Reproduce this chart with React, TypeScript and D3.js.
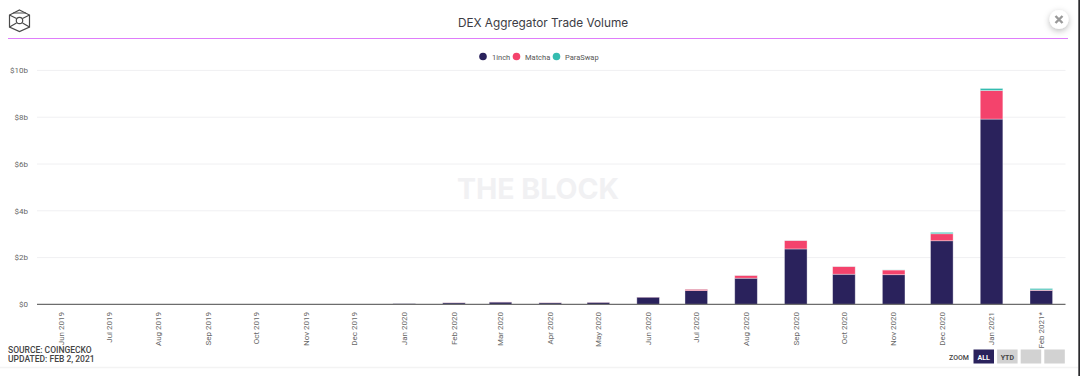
import React from "react";
import * as d3 from "d3";

const categories = ["Jun 2019","Jul 2019","Aug 2019","Sep 2019","Oct 2019","Nov 2019","Dec 2019","Jan 2020","Feb 2020","Mar 2020","Apr 2020","May 2020","Jun 2020","Jul 2020","Aug 2020","Sep 2020","Oct 2020","Nov 2020","Dec 2020","Jan 2021","Feb 2021*"];
const monthStarts = ["2019-06-01","2019-07-01","2019-08-01","2019-09-01","2019-10-01","2019-11-01","2019-12-01","2020-01-01","2020-02-01","2020-03-01","2020-04-01","2020-05-01","2020-06-01","2020-07-01","2020-08-01","2020-09-01","2020-10-01","2020-11-01","2020-12-01","2021-01-01","2021-02-01"];
const oneInch = [0,0,0,0,0,0,0,0.03,0.07,0.1,0.07,0.09,0.31,0.59,1.12,2.37,1.29,1.27,2.72,7.92,0.6];
const matcha = [0,0,0,0,0,0,0,0,0.005,0.005,0.005,0.005,0.005,0.06,0.12,0.36,0.33,0.2,0.3,1.22,0.02];
const paraSwap = [0,0,0,0,0,0,0,0,0,0,0,0,0,0.005,0.005,0.005,0.005,0.005,0.06,0.09,0.06];
const seriesNames = ["1inch","Matcha","ParaSwap"];
const seriesColors = ["#2a225c","#f4436c","#34bcb0"];
const yTicks = [0,2,4,6,8,10];
const zoomButtons = ["ALL","YTD","",""];

const dates = monthStarts.map(d=>new Date(d+"T00:00:00Z"));
const x = d3.scaleUtc().domain([dates[0],dates[dates.length-1]]).range([60.8,1041.3]);
const barW = 22.6;
const y = d3.scaleLinear().domain([0,10]).range([304.4,70.4]);
const rows = categories.map((c,i)=>({c,a:oneInch[i],b:matcha[i],p:paraSwap[i]}));
const stacked = d3.stack<any>().keys(["a","b","p"])(rows);
const ui = "Inter, 'Noto Sans', sans-serif";
const lab = "Roboto, 'Liberation Sans', sans-serif";

export default function App(){
  return (
    <svg width={1080} height={376} style={{position:"absolute",left:0,top:0,background:"#fff"}}>
      <defs>
        <filter id="sh" x="-50%" y="-50%" width="200%" height="200%">
          <feDropShadow dx="0" dy="2" stdDeviation="3" floodColor="#000" floodOpacity="0.28"/>
        </filter>
      </defs>
      <g fill="none" stroke="#4a4a4a" strokeWidth={1.2}>
        <path d="M19.5 10 L29.5 15 L29.5 27 L19.5 31.5 L9.5 27 L9.5 15 Z"/>
        <circle cx={19.5} cy={20.5} r={3.2}/>
        <path d="M9.5 15 L16.5 18.5 M29.5 15 L22.5 18.5 M9.5 27 L16.5 23 M29.5 27 L22.5 23 M13 13 L26 13"/>
      </g>
      <text x={543} y={26.5} textAnchor="middle" fontFamily={ui} fontSize={11.8} fill="#3c3c44">DEX Aggregator Trade Volume</text>
      <line x1={8} x2={1068} y1={38.5} y2={38.5} stroke="#df7dfb" strokeWidth={1.2}/>
      <circle cx={1059} cy={19.5} r={9.5} fill="#fff" filter="url(#sh)"/>
      <path d="M1055.5 16 L1062.5 23 M1062.5 16 L1055.5 23" stroke="#999" strokeWidth={2.4}/>

      {seriesNames.map((n,i)=>{
        const cx=[483,516.5,556.5][i], tx=[492,525,565][i];
        return <g key={n}>
          <circle cx={cx} cy={56.5} r={3.8} fill={seriesColors[i]}/>
          <text x={tx} y={60} fontFamily={lab} fontSize={7.5} fill="#555">{n}</text>
        </g>;
      })}

      <text x={538} y={199} textAnchor="middle" fontFamily={ui} fontWeight={700} fontSize={28.5} fill="#f1f1f3">THE BLOCK</text>

      {yTicks.map(t=>(
        <g key={t}>
          {t>0 && <line x1={37} x2={1065.5} y1={y(t)} y2={y(t)} stroke="#f0f0f2"/>}
          <text x={28} y={y(t)+2.8} textAnchor="end" fontFamily={lab} fontSize={8} fill="#666">{`$${t}${t?"b":""}`}</text>
        </g>
      ))}

      {stacked.map((s,i)=>(
        <g key={s.key} fill={seriesColors[i]}>
          {s.map((d,j)=> d[1]-d[0]>0 ? (
            <rect key={j} x={x(dates[j])-barW/2} width={barW} y={y(d[1])} height={y(d[0])-y(d[1])} stroke="#fff" strokeOpacity={0.45} strokeWidth={0.8}/>
          ):null)}
        </g>
      ))}
      <line x1={37} x2={1065.5} y1={304.4} y2={304.4} stroke="#6d6d6d" strokeWidth={1.1}/>

      {categories.map((c,i)=>(
        <text key={c} transform={`translate(${x(dates[i])+2.8},312) rotate(-90)`} textAnchor="end" fontFamily={lab} fontSize={8} fill="#666">{c}</text>
      ))}

      <text x={8} y={353} fontFamily={lab} fontSize={8.5} fontWeight={500} fill="#444">SOURCE: COINGECKO</text>
      <text x={8} y={362} fontFamily={lab} fontSize={8.5} fontWeight={500} fill="#444">UPDATED: FEB 2, 2021</text>
      <text x={949} y={360} fontFamily={lab} fontSize={7} fontWeight={500} fill="#444">ZOOM</text>
      {zoomButtons.map((b,i)=>{
        const bx=973.5+i*23.6;
        return <g key={i}>
          <rect x={bx} y={349.5} width={20.5} height={14} fill={i===0?"#2a225c":"#d2d2d2"}/>
          {b && <text x={bx+10.2} y={359.5} textAnchor="middle" fontFamily={lab} fontWeight={700} fontSize={7} fill={i===0?"#fff":"#444"}>{b}</text>}
        </g>;
      })}
      <line x1={0} x2={1078} y1={367.5} y2={367.5} stroke="#f3f3f3" strokeWidth={1.5}/>
      <rect x={1078.3} y={0} width={1.7} height={376} fill="#2b2b2e"/>
    </svg>
  );
}
